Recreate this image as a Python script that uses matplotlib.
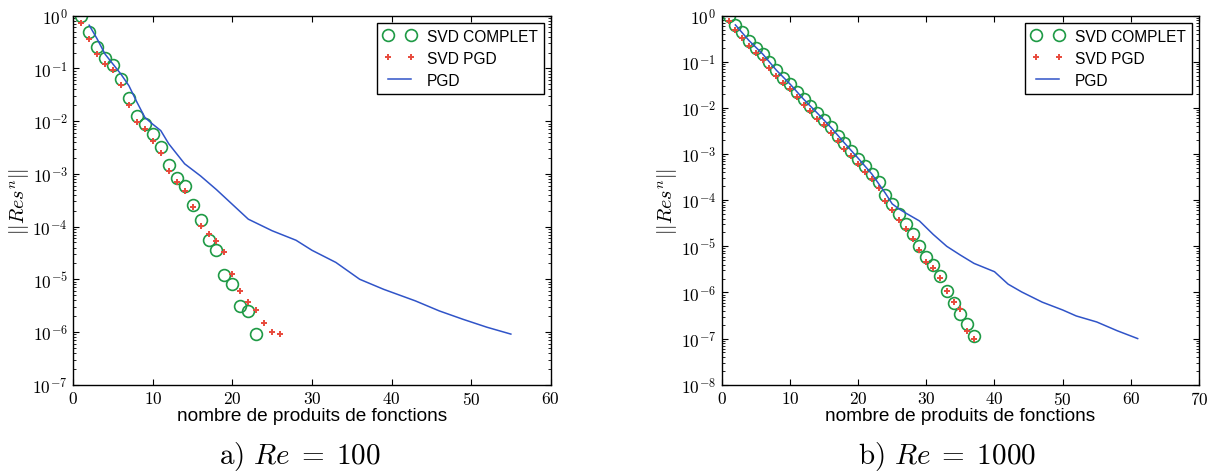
import numpy as np
import matplotlib
matplotlib.use('Agg')
import matplotlib.pyplot as plt
from matplotlib.ticker import FuncFormatter, LogLocator, MultipleLocator, NullFormatter

############################################################################################
# Data (values are log10 of ||Res^n||)
n_svd_100 = np.arange(1, 24)
svd_complet_100 = [0.0, -0.315, -0.60, -0.81, -0.93, -1.20, -1.56, -1.90, -2.06, -2.24,
                   -2.49, -2.83, -3.07, -3.24, -3.59, -3.88, -4.26, -4.45, -4.92, -5.09,
                   -5.50, -5.61, -6.04]
n_svdpgd_100 = np.arange(1, 27)
svd_pgd_100 = [-0.14, -0.44, -0.73, -0.92, -1.03, -1.31, -1.69, -2.02, -2.15, -2.37,
               -2.61, -2.95, -3.15, -3.33, -3.62, -3.98, -4.14, -4.28, -4.49, -4.90,
               -5.22, -5.43, -5.58, -5.83, -6.00, -6.03]
n_pgd_100 = [2, 3, 4, 5, 6, 7, 8, 9, 10, 11, 12, 13, 14, 16, 18, 20, 22, 25, 28, 30,
             33, 36, 39, 43, 46, 49, 52, 55]
pgd_100 = [-0.18, -0.44, -0.73, -0.92, -1.11, -1.33, -1.64, -1.93, -2.06, -2.18,
           -2.43, -2.62, -2.81, -3.04, -3.30, -3.58, -3.86, -4.08, -4.26, -4.45,
           -4.68, -5.00, -5.19, -5.41, -5.60, -5.76, -5.91, -6.04]

n_svd_1000 = np.arange(1, 38)
svd_complet_1000 = [0.0, -0.20, -0.36, -0.54, -0.69, -0.83, -1.01, -1.18, -1.34, -1.48,
                    -1.65, -1.81, -1.95, -2.11, -2.26, -2.42, -2.60, -2.76, -2.93, -3.10,
                    -3.26, -3.43, -3.61, -3.88, -4.08, -4.30, -4.52, -4.74, -4.99, -5.24,
                    -5.41, -5.64, -5.97, -6.23, -6.47, -6.69, -6.94]
svd_pgd_1000 = [-0.12, -0.32, -0.48, -0.66, -0.81, -0.95, -1.13, -1.30, -1.46, -1.60,
                -1.77, -1.93, -2.07, -2.23, -2.38, -2.54, -2.72, -2.88, -3.05, -3.22,
                -3.38, -3.55, -3.73, -4.02, -4.22, -4.42, -4.62, -4.84, -5.08, -5.33,
                -5.48, -5.68, -5.97, -6.21, -6.35, -6.83, -7.01]
n_pgd_1000 = [2, 4, 6, 8, 10, 12, 14, 16, 18, 20, 22, 24, 25, 26, 27, 29, 31, 33, 35,
              37, 40, 42, 44, 47, 50, 52, 55, 58, 61]
pgd_1000 = [-0.20, -0.54, -0.83, -1.18, -1.48, -1.81, -2.11, -2.42, -2.76, -3.09,
            -3.43, -3.85, -4.08, -4.19, -4.28, -4.45, -4.74, -5.00, -5.19, -5.37,
            -5.55, -5.82, -5.99, -6.21, -6.38, -6.51, -6.64, -6.83, -7.00]

############################################################################################
# Settings
plt.rcParams['font.family'] = ['Liberation Sans', 'DejaVu Sans']
plt.rcParams['mathtext.fontset'] = 'cm'
plt.rcParams['xtick.direction'] = 'in'
plt.rcParams['ytick.direction'] = 'in'
plt.rcParams['xtick.top'] = True
plt.rcParams['ytick.right'] = True
plt.rcParams['xtick.major.size'] = 4
plt.rcParams['ytick.major.size'] = 4
plt.rcParams['ytick.minor.size'] = 2
plt.rcParams['axes.linewidth'] = 1.0

green = '#1e9a45'
red = '#e84a3c'
blue = '#3054c8'

fig = plt.figure(figsize=(12.11, 4.77), dpi=100)
ax1 = fig.add_axes([0.0605, 0.1914, 0.3942, 0.7736])
ax2 = fig.add_axes([0.5960, 0.1914, 0.3941, 0.7736])


def draw(ax, n_c, c, n_p, p, n_l, l, xmax, ymin):
    ax.plot(n_c, 10.0 ** np.array(c), 'o', mfc='none', mec=green, mew=1.2, ms=8.5,
            label='SVD COMPLET')
    ax.plot(n_p, 10.0 ** np.array(p), '+', color=red, mew=1.4, ms=5, label='SVD PGD')
    ax.plot(n_l, 10.0 ** np.array(l), '-', color=blue, lw=1.1, label='PGD')
    ax.set_yscale('log')
    ax.set_xlim(0, xmax)
    ax.set_ylim(ymin, 1)
    ax.xaxis.set_major_locator(MultipleLocator(10))
    ax.xaxis.set_major_formatter(FuncFormatter(lambda v, pos: r'$%d$' % round(v)))
    ax.yaxis.set_major_locator(LogLocator(base=10, numticks=20))
    ax.yaxis.set_minor_locator(LogLocator(base=10, subs=np.arange(2, 10), numticks=20))
    ax.yaxis.set_major_formatter(FuncFormatter(lambda v, pos: r'$10^{%d}$' % round(np.log10(v))))
    ax.yaxis.set_minor_formatter(NullFormatter())
    ax.tick_params(labelsize=12.5, pad=4)
    ax.set_xlabel('nombre de produits de fonctions', fontsize=13.7, labelpad=0)
    ax.set_ylabel(r'$||Res^n||$', fontsize=14.5, labelpad=1)
    leg = ax.legend(loc='upper right', numpoints=2, fontsize=11.2, fancybox=False,
                    framealpha=1, edgecolor='black', borderpad=0.4, labelspacing=0.45,
                    handlelength=2.1, handletextpad=0.7, borderaxespad=0.45)
    leg.get_frame().set_linewidth(1.0)


############################################################################################
# Plots
draw(ax1, n_svd_100, svd_complet_100, n_svdpgd_100, svd_pgd_100, n_pgd_100, pgd_100, 60, 1e-7)
draw(ax2, n_svd_1000, svd_complet_1000, n_svd_1000, svd_pgd_1000, n_pgd_1000, pgd_1000, 70, 1e-8)

fig.text(300 / 1211, 1 - 457 / 477, r'$\mathrm{a)}\ Re\;=\;100$', fontsize=21,
         ha='center', va='center')
fig.text(947 / 1211, 1 - 457 / 477, r'$\mathrm{b)}\ Re\;=\;1000$', fontsize=21,
         ha='center', va='center')

plt.savefig('out.png', dpi=100)
